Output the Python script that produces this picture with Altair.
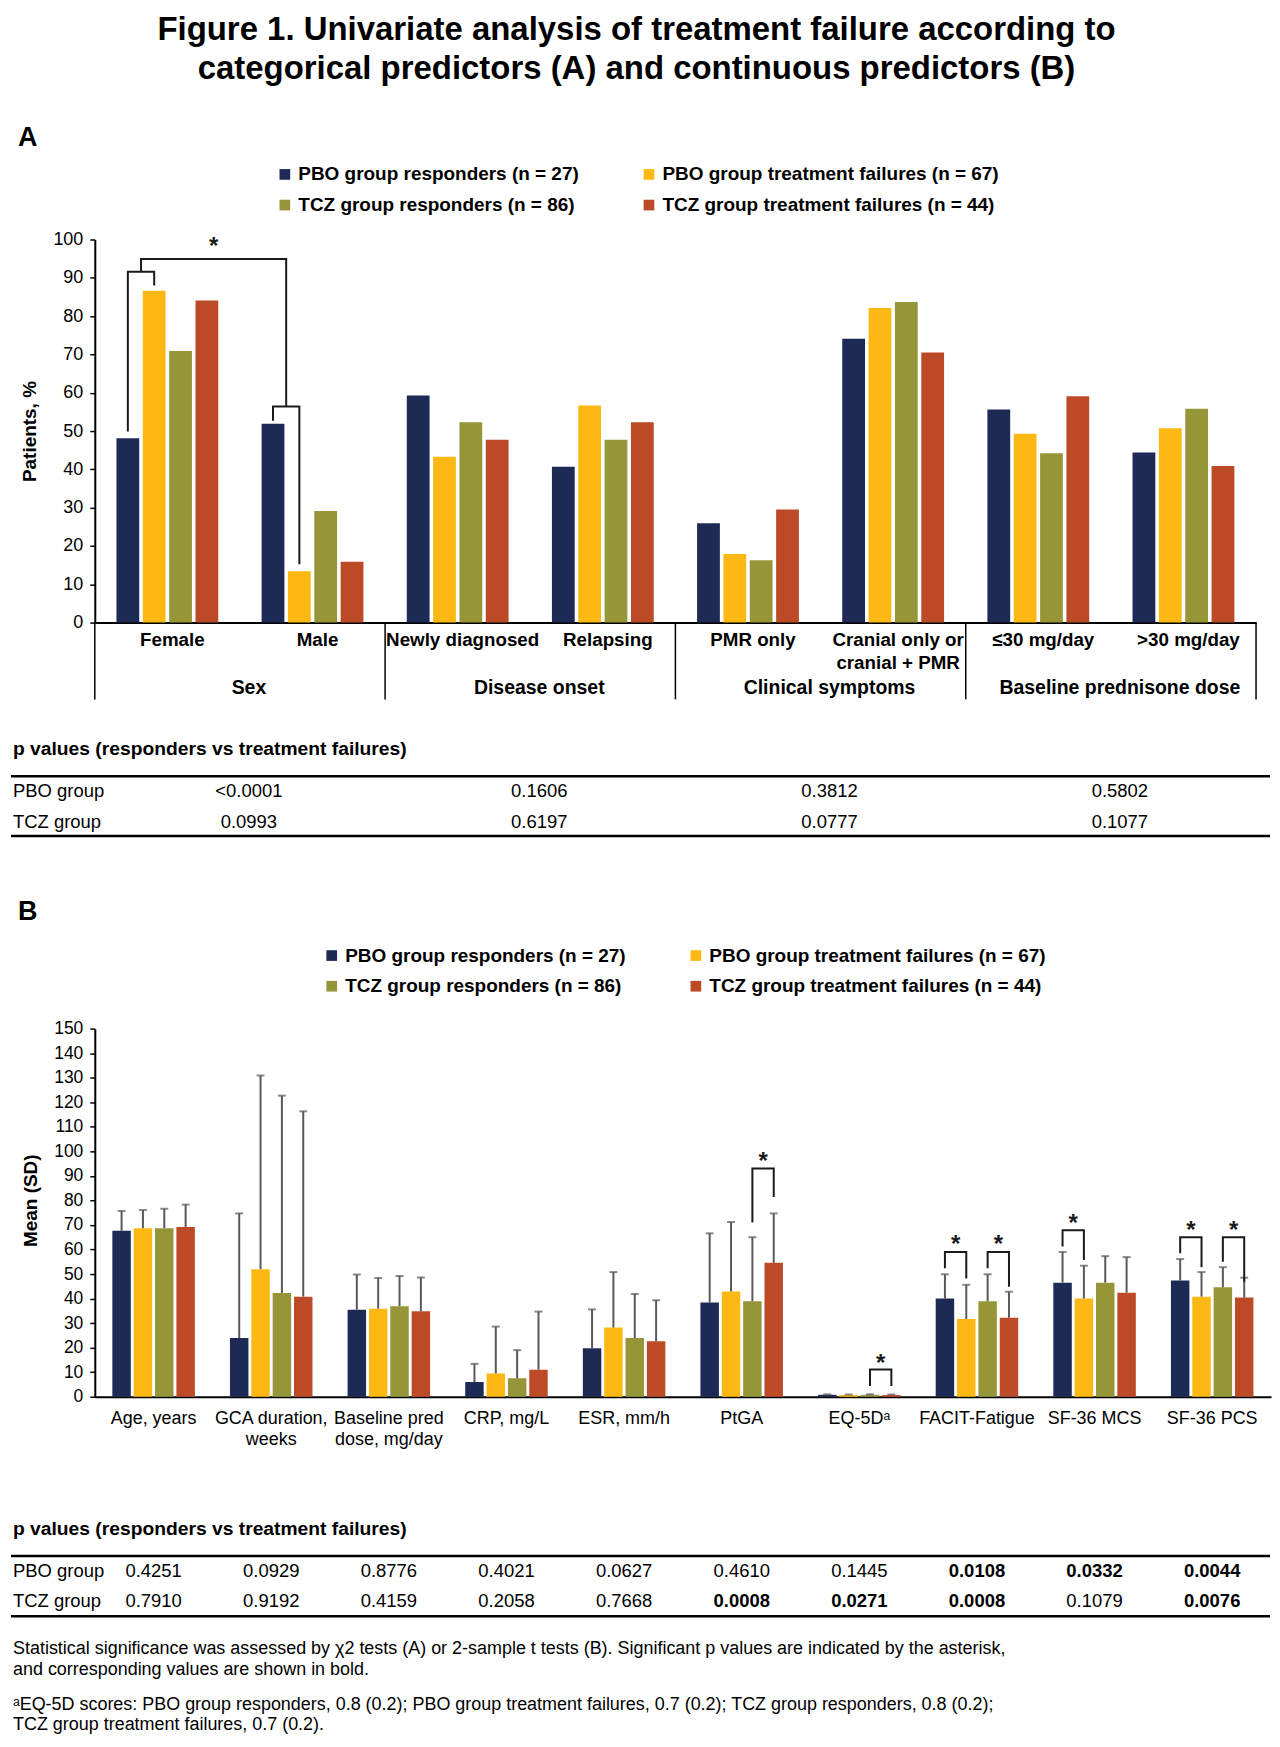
import altair as alt
import pandas as pd

# ---------------- data ----------------
SERIES = ["PBO group responders (n = 27)", "PBO group treatment failures (n = 67)",
          "TCZ group responders (n = 86)", "TCZ group treatment failures (n = 44)"]
COLORS = ["#1c2a55", "#fdb813", "#969537", "#bd4a26"]

TITLE = ("Figure 1. Univariate analysis of treatment failure according to\n"
         "categorical predictors (A) and continuous predictors (B)")
HEADING = "p values (responders vs treatment failures)"
ROW_LABELS = ["PBO group", "TCZ group"]

# Panel A (percent of patients)
A_CATEGORIES = ["Female", "Male", "Newly diagnosed", "Relapsing", "PMR only",
                "Cranial only or\ncranial + PMR", "≤30 mg/day", ">30 mg/day"]
A_GROUPS = ["Sex", "Disease onset", "Clinical symptoms", "Baseline prednisone dose"]
A_PBO_RESP = [48.1, 51.9, 59.3, 40.7, 25.9, 74.1, 55.6, 44.4]
A_PBO_FAIL = [86.6, 13.4, 43.3, 56.7, 17.9, 82.1, 49.3, 50.7]
A_TCZ_RESP = [70.9, 29.1, 52.3, 47.7, 16.3, 83.7, 44.2, 55.8]
A_TCZ_FAIL = [84.1, 15.9, 47.7, 52.3, 29.5, 70.5, 59.1, 40.9]
A_P_PBO = ["<0.0001", "0.1606", "0.3812", "0.5802"]
A_P_TCZ = ["0.0993", "0.6197", "0.0777", "0.1077"]
A_Y_TICKS = [0, 10, 20, 30, 40, 50, 60, 70, 80, 90, 100]
# bracket: category, series from, series to, left leg end, top, right leg end
A_BRACKETS = [(0, 0, 1, 49.9, 91.6, 88.0), (1, 0, 1, 52.7, 56.4, 15.2)]
A_LINK_TOP = 94.9
A_STAR_Y = 99.6

# Panel B (mean, SD)
B_CATEGORIES = ["Age, years", "GCA duration,\nweeks", "Baseline pred\ndose, mg/day", "CRP, mg/L",
                "ESR, mm/h", "PtGA", "EQ-5Dᵃ", "FACIT-Fatigue", "SF-36 MCS", "SF-36 PCS"]
B_PBO_RESP_MEAN = [67.6, 23.9, 35.5, 6.0, 19.8, 38.4, 0.8, 40.0, 46.5, 47.4]
B_PBO_RESP_SD = [8.1, 50.8, 14.3, 7.4, 15.8, 28.2, 0.2, 9.9, 12.5, 8.7]
B_PBO_FAIL_MEAN = [68.7, 52.0, 35.9, 9.5, 28.2, 42.9, 0.7, 31.7, 40.0, 40.8]
B_PBO_FAIL_SD = [7.4, 78.9, 12.5, 19.1, 22.6, 28.3, 0.2, 13.9, 13.4, 10.0]
B_TCZ_RESP_MEAN = [68.7, 42.3, 36.9, 7.5, 23.9, 38.9, 0.8, 38.9, 46.5, 44.6]
B_TCZ_RESP_SD = [7.9, 80.4, 12.3, 11.5, 18.0, 26.1, 0.2, 11.0, 10.8, 8.2]
B_TCZ_FAIL_MEAN = [69.2, 40.8, 34.8, 11.0, 22.6, 54.6, 0.7, 32.2, 42.4, 40.4]
B_TCZ_FAIL_SD = [9.1, 75.5, 13.8, 23.7, 16.7, 20.1, 0.2, 10.6, 14.5, 8.1]
B_P_PBO = ["0.4251", "0.0929", "0.8776", "0.4021", "0.0627", "0.4610", "0.1445", "0.0108", "0.0332", "0.0044"]
B_P_TCZ = ["0.7910", "0.9192", "0.4159", "0.2058", "0.7668", "0.0008", "0.0271", "0.0008", "0.1079", "0.0076"]
B_P_PBO_SIG = [False, False, False, False, False, False, False, True, True, True]
B_P_TCZ_SIG = [False, False, False, False, False, True, True, True, False, True]
B_Y_TICKS = [0, 10, 20, 30, 40, 50, 60, 70, 80, 90, 100, 110, 120, 130, 140, 150]
# bracket: category, series from, series to, left leg end, top, right leg end, asterisk
B_BRACKETS = [
    (5, 2, 3, 71.0, 93.0, 81.4, 98.0),
    (6, 2, 3, 4.4, 11.1, 4.4, 15.7),
    (7, 0, 1, 52.4, 59.0, 48.2, 64.2),
    (7, 2, 3, 52.4, 59.0, 44.8, 64.2),
    (8, 0, 1, 61.2, 67.8, 55.7, 72.7),
    (9, 0, 1, 58.5, 65.0, 52.8, 69.9),
    (9, 2, 3, 55.0, 65.0, 46.9, 69.9),
]

FOOT1 = ("Statistical significance was assessed by χ2 tests (A) or 2-sample t tests (B). "
         "Significant p values are indicated by the asterisk,\nand corresponding values are shown in bold.")
FOOT2 = ("ᵃEQ-5D scores: PBO group responders, 0.8 (0.2); PBO group treatment failures, 0.7 (0.2); "
         "TCZ group responders, 0.8 (0.2);\nTCZ group treatment failures, 0.7 (0.2).")

# ---------------- layout constants ----------------
STEP = 0.1815   # distance between bar centres (category units)
BARW = 0.157    # bar width (category units)
A_W, A_H = 1164, 384
B_W, B_H = 1179, 369
INK = "#1a1a1a"
A_DX = 9        # panel A group labels / p values sit slightly right of the group centres
A_CAT_DX = 5


def cx(i, s):
    return i + 0.5 + (s - 1.5) * STEP


def bar_frame(series_values, series_sd=None):
    rows = []
    for s, vals in enumerate(series_values):
        for i, v in enumerate(vals):
            c = cx(i, s)
            row = dict(series=SERIES[s], cx=c, x0=c - BARW / 2, x1=c + BARW / 2, value=v)
            if series_sd is not None:
                row["top"] = v + series_sd[s][i]
            rows.append(row)
    return pd.DataFrame(rows)


def bracket_points(i, s0, s1, left, top, right, bid):
    return [dict(id=bid, k=0, x=cx(i, s0), y=left), dict(id=bid, k=1, x=cx(i, s0), y=top),
            dict(id=bid, k=2, x=cx(i, s1), y=top), dict(id=bid, k=3, x=cx(i, s1), y=right)]


def text_layer(text, x, y, size, weight="normal", align="left", lh=None):
    kw = dict(fontSize=size, fontWeight=weight, align=align, baseline="alphabetic", color="black")
    if "\n" in text:
        kw.update(lineBreak="\n", lineHeight=lh)
    return alt.Chart(pd.DataFrame({"t": [text]})).mark_text(**kw).encode(
        text="t:N", x=alt.value(x), y=alt.value(y))


def hline(x1, x2, y, w=2.5):
    return alt.Chart(pd.DataFrame({"k": [0]})).mark_rule(color="black", strokeWidth=w).encode(
        x=alt.value(x1), x2=alt.value(x2), y=alt.value(y))


X_AXIS = alt.Axis(labels=False, ticks=False, title=None, grid=False,
                  domainColor="black", domainWidth=2)


def y_axis(values, title, label_size, **extra):
    return alt.Axis(values=values, tickCount=len(values), title=title, titleFontSize=19,
                    titleFontWeight="bold", titleColor="black", titlePadding=13,
                    labelFontSize=label_size, labelColor="black", labelPadding=7,
                    labelOverlap=False, labelFlush=False, tickSize=5, tickColor="black",
                    tickWidth=1.5, domainColor="black", domainWidth=2, grid=False, **extra)


def legend(lx, ly):
    return alt.Legend(orient="none", legendX=lx, legendY=ly, columns=2, direction="horizontal",
                      symbolType="square", symbolSize=115, symbolStrokeWidth=0,
                      labelFontSize=19, labelFontWeight="bold", labelColor="black",
                      columnPadding=60, rowPadding=11, labelOffset=4, labelLimit=500)


def color_enc(lx, ly):
    return alt.Color("series:N", scale=alt.Scale(domain=SERIES, range=COLORS),
                     sort=SERIES, title=None, legend=legend(lx, ly))


# ---------------- panel A ----------------
xA = alt.Scale(domain=[0, len(A_CATEGORIES)], nice=False, zero=False)
yA = alt.Scale(domain=[0, 100], nice=False)
yA_axis = y_axis(A_Y_TICKS, "Patients, %", 18)


def YA(field):
    return alt.Y(field, scale=yA, axis=yA_axis)


def XA(field):
    return alt.X(field, scale=xA, axis=X_AXIS)


dfA = bar_frame([A_PBO_RESP, A_PBO_FAIL, A_TCZ_RESP, A_TCZ_FAIL])
barsA = alt.Chart(dfA).mark_bar().encode(
    x=XA("x0:Q"), x2="x1:Q", y=YA("value:Q"), y2=alt.datum(0), color=color_enc(181, -75))

ptsA = []
for b, (i, s0, s1, l, t, r) in enumerate(A_BRACKETS):
    ptsA += bracket_points(i, s0, s1, l, t, r, b)
m0 = (cx(A_BRACKETS[0][0], A_BRACKETS[0][1]) + cx(A_BRACKETS[0][0], A_BRACKETS[0][2])) / 2
m1 = (cx(A_BRACKETS[1][0], A_BRACKETS[1][1]) + cx(A_BRACKETS[1][0], A_BRACKETS[1][2])) / 2
ptsA += [dict(id=9, k=0, x=m0, y=A_BRACKETS[0][4]), dict(id=9, k=1, x=m0, y=A_LINK_TOP),
         dict(id=9, k=2, x=m1, y=A_LINK_TOP), dict(id=9, k=3, x=m1, y=A_BRACKETS[1][4])]
bracketsA = alt.Chart(pd.DataFrame(ptsA)).mark_line(color=INK, strokeWidth=2).encode(
    x=XA("x:Q"), y=YA("y:Q"), detail="id:N", order="k:Q")
starsA = alt.Chart(pd.DataFrame([dict(x=(m0 + m1) / 2, y=A_STAR_Y)])).mark_text(
    text="*", fontSize=24, fontWeight="bold", baseline="alphabetic", dy=13, color=INK).encode(
    x=XA("x:Q"), y=YA("y:Q"))

catA = alt.Chart(pd.DataFrame({"label": A_CATEGORIES,
                               "x": [i + 0.5 for i in range(len(A_CATEGORIES))]})).mark_text(
    fontSize=18.8, fontWeight="bold", lineBreak="\n", lineHeight=23.5, baseline="alphabetic",
    align="center", color="black", dx=A_CAT_DX).encode(
    x=XA("x:Q"), y=alt.value(407), text="label:N")
grpA = alt.Chart(pd.DataFrame({"label": A_GROUPS,
                               "x": [2 * g + 1 for g in range(len(A_GROUPS))]})).mark_text(
    fontSize=19.5, fontWeight="bold", baseline="alphabetic", align="center", color="black",
    dx=A_DX).encode(x=XA("x:Q"), y=alt.value(455.5), text="label:N")
sepA = alt.Chart(pd.DataFrame({"x": [2 * g for g in range(len(A_GROUPS) + 1)]})).mark_rule(
    color="black", strokeWidth=1.5).encode(x=XA("x:Q"), y=alt.value(A_H), y2=alt.value(461))


def p_row(values, y, xenc, xs, bold_flags=None, dx=0):
    df = pd.DataFrame({"p": values, "x": xs,
                       "b": bold_flags if bold_flags is not None else [False] * len(values)})
    layers = []
    for flag, weight in [(False, "normal"), (True, "bold")]:
        sub = df[df["b"] == flag]
        if len(sub):
            layers.append(alt.Chart(sub).mark_text(fontSize=18.5, fontWeight=weight, align="center",
                                                   baseline="alphabetic", color="black", dx=dx).encode(
                x=xenc("x:Q"), y=alt.value(y), text="p:N"))
    return layers


gx = [2 * g + 1 for g in range(len(A_GROUPS))]
tableA = [text_layer(HEADING, -82, 517, 19.3, "bold"), hline(-84, 1178, 538), hline(-84, 1178, 598),
          text_layer(ROW_LABELS[0], -82, 559, 18.5), text_layer(ROW_LABELS[1], -82, 590, 18.5)]
tableA += p_row(A_P_PBO, 559, XA, gx, dx=A_DX) + p_row(A_P_TCZ, 590, XA, gx, dx=A_DX)

anchor = alt.Chart(pd.DataFrame({"k": [0]})).mark_rule(opacity=0, strokeWidth=1).encode(
    x=alt.value(-86.5), x2=alt.value(-85.5), y=alt.value(-229.5))

panelA = alt.layer(
    barsA, bracketsA, starsA, catA, grpA, sepA,
    text_layer(TITLE, 543, -200, 33, "bold", "center", lh=39),
    text_layer("A", -77, -94, 27, "bold"),
    anchor, *tableA,
).properties(width=A_W, height=A_H)

# ---------------- panel B ----------------
xB = alt.Scale(domain=[0, len(B_CATEGORIES)], nice=False, zero=False)
yB = alt.Scale(domain=[0, 150], nice=False)
yB_axis = y_axis(B_Y_TICKS, "Mean (SD)", 17.5, titleY=172)


def YB(field):
    return alt.Y(field, scale=yB, axis=yB_axis)


def XB(field):
    return alt.X(field, scale=xB, axis=X_AXIS)


dfB = bar_frame([B_PBO_RESP_MEAN, B_PBO_FAIL_MEAN, B_TCZ_RESP_MEAN, B_TCZ_FAIL_MEAN],
                [B_PBO_RESP_SD, B_PBO_FAIL_SD, B_TCZ_RESP_SD, B_TCZ_FAIL_SD])
barsB = alt.Chart(dfB).mark_bar().encode(
    x=XB("x0:Q"), x2="x1:Q", y=YB("value:Q"), y2=alt.datum(0), color=color_enc(228, -83))
errB = alt.Chart(dfB).mark_rule(color="#595959", strokeWidth=2).encode(
    x=XB("cx:Q"), y=YB("value:Q"), y2="top:Q")
capB = alt.Chart(dfB).mark_tick(color="#595959", thickness=2, size=8, orient="horizontal").encode(
    x=XB("cx:Q"), y=YB("top:Q"))

ptsB, starB = [], []
for b, (i, s0, s1, l, t, r, st) in enumerate(B_BRACKETS):
    ptsB += bracket_points(i, s0, s1, l, t, r, b)
    starB.append(dict(x=(cx(i, s0) + cx(i, s1)) / 2, y=st))
bracketsB = alt.Chart(pd.DataFrame(ptsB)).mark_line(color=INK, strokeWidth=2).encode(
    x=XB("x:Q"), y=YB("y:Q"), detail="id:N", order="k:Q")
starsB = alt.Chart(pd.DataFrame(starB)).mark_text(
    text="*", fontSize=24, fontWeight="bold", baseline="alphabetic", dy=13, color=INK).encode(
    x=XB("x:Q"), y=YB("y:Q"))

catB = alt.Chart(pd.DataFrame({"label": B_CATEGORIES,
                               "x": [i + 0.5 for i in range(len(B_CATEGORIES))]})).mark_text(
    fontSize=18, lineBreak="\n", lineHeight=21, baseline="alphabetic", align="center",
    color="black").encode(x=XB("x:Q"), y=alt.value(396.5), text="label:N")

cxB = [i + 0.5 for i in range(len(B_CATEGORIES))]
tableB = [text_layer(HEADING, -82, 508, 19.3, "bold"), hline(-84, 1178, 528.5), hline(-84, 1178, 589),
          text_layer(ROW_LABELS[0], -82, 550, 18.5), text_layer(ROW_LABELS[1], -82, 580, 18.5)]
tableB += p_row(B_P_PBO, 550, XB, cxB, B_P_PBO_SIG) + p_row(B_P_TCZ, 580, XB, cxB, B_P_TCZ_SIG)

panelB = alt.layer(
    barsB, errB, capB, bracketsB, starsB, catB,
    text_layer("B", -77, -109, 27, "bold"),
    *tableB,
    text_layer(FOOT1, -82, 627, 18, lh=20.5),
    text_layer(FOOT2, -82, 683, 18, lh=20.5),
).properties(width=B_W, height=B_H)

chart = alt.vconcat(panelA, panelB, spacing=407, bounds="flush").resolve_scale(
    x="independent", y="independent", color="independent").resolve_legend(
    color="independent").properties(padding=0).configure(
    font="Liberation Sans").configure_view(stroke="transparent").configure_axis(
    grid=False).configure_axisY(labelOverlap=False)

chart.save("out.html", embed_options={"renderer": "svg", "actions": False})
